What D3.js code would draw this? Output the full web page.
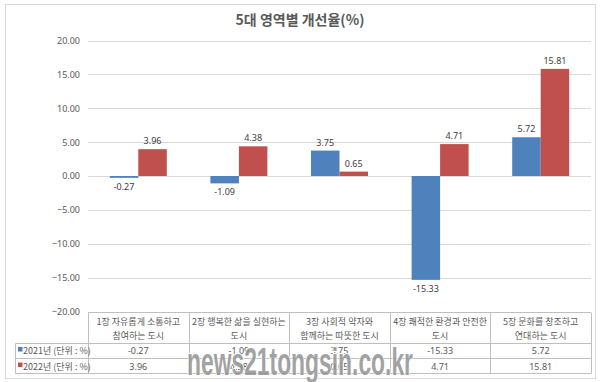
<!DOCTYPE html>
<html><head><meta charset="utf-8">
<script src="https://cdn.jsdelivr.net/npm/d3@7"></script>
<style>
html,body{margin:0;padding:0;background:#fff;}
svg{display:block;font-family:"Noto Sans CJK KR","Noto Sans",sans-serif;}
</style></head>
<body>
<svg id="c" width="600" height="382"></svg>
<script>
const title = "5대 영역별 개선율(%)";
const categories = [
  ["1장  자유롭게 소통하고","참여하는 도시"],
  ["2장 행복한 삶을 실현하는","도시"],
  ["3장 사회적 약자와","함께하는 따뜻한 도시"],
  ["4장 쾌적한 환경과 안전한","도시"],
  ["5장 문화를 창조하고","연대하는 도시"]
];
const seriesNames = ["2021년 (단위 : %)", "2022년 (단위 : %)"];
const values2021 = [-0.27, -1.09, 3.75, -15.33, 5.72];
const values2022 = [3.96, 4.38, 0.65, 4.71, 15.81];
const yTicks = [20, 15, 10, 5, 0, -5, -10, -15, -20];
const colors = ["#4F81BD", "#C0504D"];

const svg = d3.select("#c");
const plotL = 88, plotR = 591, plotT = 40.5, plotB = 311.5;

svg.append("rect").attr("x",5.5).attr("y",4.5).attr("width",590).attr("height",374)
  .attr("fill","#fff").attr("stroke","#d9d9d9");

svg.append("text").attr("x",300).attr("y",25).attr("text-anchor","middle")
  .attr("font-size",14).attr("font-weight","bold").attr("fill","#595959").text(title);

const y = d3.scaleLinear().domain([-20,20]).range([plotB, plotT]);
const x = d3.scaleBand().domain(d3.range(categories.length)).range([plotL, plotR]);
const inner = d3.scaleBand().domain([0,1]).range([0, x.bandwidth()]).paddingOuter(0.765).paddingInner(0);

svg.append("g").selectAll("line").data(yTicks).join("line")
  .attr("x1",plotL).attr("x2",plotR)
  .attr("y1",d=>Math.round(y(d))+0.5).attr("y2",d=>Math.round(y(d))+0.5)
  .attr("stroke","#d9d9d9").attr("stroke-width",1);

const yAxis = d3.axisLeft(y).tickValues(yTicks).tickFormat(d3.format(".2f")).tickSize(0).tickPadding(0);
const ga = svg.append("g").attr("transform",`translate(80,0)`).call(yAxis);
ga.select(".domain").remove();
ga.selectAll("text").attr("font-size",9).attr("fill","#595959").attr("font-family","'Noto Sans','Noto Sans CJK KR',sans-serif");

const series = [values2021, values2022];
series.forEach((vals, si) => {
  const g = svg.append("g");
  g.selectAll("rect").data(vals).join("rect")
    .attr("x", (d,i)=>x(i)+inner(si))
    .attr("width", inner.bandwidth())
    .attr("y", d=>y(Math.max(0,d)))
    .attr("height", d=>Math.max(1.5, Math.abs(y(d)-y(0))))
    .attr("fill", colors[si]);
  g.selectAll("text").data(vals).join("text")
    .attr("x", (d,i)=>x(i)+inner(si)+inner.bandwidth()/2)
    .attr("y", d=> d>=0 ? y(d)-5 : y(d)+12)
    .attr("text-anchor","middle").attr("font-size",9).attr("fill","#404040")
    .attr("font-family","'Noto Sans','Noto Sans CJK KR',sans-serif")
    .text(d=>d.toFixed(2));
});

const tT = 312.5, r1 = 343.5, r2 = 358.5, tB = 373.5, legL = 15.5;
const tl = svg.append("g").attr("stroke","#bfbfbf").attr("stroke-width",1);
tl.append("line").attr("x1",plotL+0.5).attr("x2",plotR).attr("y1",tT).attr("y2",tT);
[r1,r2,tB].forEach(yy=>tl.append("line").attr("x1",legL).attr("x2",plotR).attr("y1",yy).attr("y2",yy));
tl.append("line").attr("x1",legL).attr("x2",legL).attr("y1",r1).attr("y2",tB);
const bounds = d3.range(categories.length+1).map(i=> i<categories.length ? x(i) : plotR);
tl.selectAll("line.v").data(bounds).join("line").attr("class","v")
  .attr("x1",d=>Math.round(d)+0.5).attr("x2",d=>Math.round(d)+0.5).attr("y1",tT).attr("y2",tB);

const tx = svg.append("g").attr("font-size",9).attr("fill","#595959").attr("text-anchor","middle");
categories.forEach((c,i)=>{
  c.forEach((line,li)=>{
    tx.append("text").attr("x",x(i)+x.bandwidth()/2).attr("y",325+li*13.5).text(line);
  });
  series.forEach((vals,si)=>{
    tx.append("text").attr("x",x(i)+x.bandwidth()/2).attr("y",(si? 369.5:354))
      .attr("font-family","'Noto Sans',sans-serif").text(vals[i].toFixed(2));
  });
});
seriesNames.forEach((n,si)=>{
  const yy = si? 369.5 : 354;
  svg.append("rect").attr("x",18).attr("y",yy-7).attr("width",4.5).attr("height",4.5).attr("fill",colors[si]);
  svg.append("text").attr("x",23).attr("y",yy).attr("font-size",9).attr("fill","#595959").text(n);
});

// watermark
svg.append("text").attr("x",187).attr("y",375).attr("font-size",38).attr("font-weight","bold")
  .attr("font-family","'Liberation Sans','Arial',sans-serif")
  .attr("textLength",226).attr("lengthAdjust","spacingAndGlyphs")
  .attr("fill","#8a8a8a").attr("fill-opacity",0.8)
  .attr("stroke","#fff").attr("stroke-width",2).attr("paint-order","stroke")
  .text("news21tongsin.co.kr");
</script>
</body></html>
